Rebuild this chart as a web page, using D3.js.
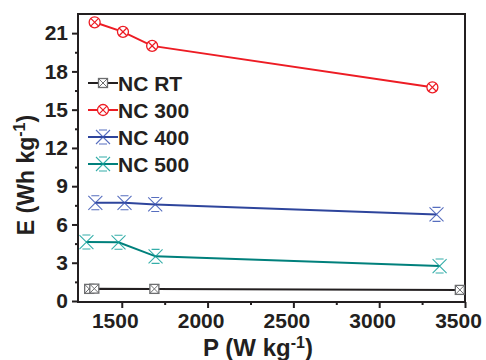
<!DOCTYPE html>
<html>
<head>
<meta charset="utf-8">
<script src="https://cdn.jsdelivr.net/npm/d3@7"></script>
<style>
  body { margin: 0; background: #fff; }
  text { font-family: Arial, "Liberation Sans", sans-serif; font-weight: bold; fill: #231f20; }
</style>
</head>
<body>
<script>
/*
DATA
*/
const seriesNames = ["NC RT", "NC 300", "NC 400", "NC 500"]
const pRT  = [1310, 1340, 1690, 3470]
const eRT  = [0.95, 0.97, 0.95, 0.87]
const p300 = [1342, 1507, 1677, 3310]
const e300 = [21.85, 21.1, 20.0, 16.75]
const p400 = [1346, 1516, 1695, 3334]
const e400 = [7.7, 7.7, 7.57, 6.79]
const p500 = [1294, 1481, 1697, 3352]
const e500 = [4.62, 4.6, 3.5, 2.74]
const xTicks = [1500, 2000, 2500, 3000, 3500]
const xMinor = [1750, 2250, 2750, 3250]
const yTicks = [0, 3, 6, 9, 12, 15, 18, 21]
const yMinor = [1.5, 4.5, 7.5, 10.5, 13.5, 16.5, 19.5]

/*
SET UP
*/
const w = 486
const h = 360
const m = ({top: 14, right: 21, bottom: 58, left: 78})

const svg = d3.select("body")
  .append("svg")
  .attr("width", w)
  .attr("height", h);

const x = d3.scaleLinear()
  .domain([1245, 3500])
  .range([m.left, w - m.right]);

const y = d3.scaleLinear()
  .domain([0, 22.5])
  .range([h - m.bottom - 1, m.top]);

const styles = [
  {line: "#231f20", mark: "#6d6e70", shape: "square"},
  {line: "#ed1c24", mark: "#ed1c24", shape: "circle"},
  {line: "#2e459c", mark: "#3a55b4", shape: "star"},
  {line: "#00807c", mark: "#12a09a", shape: "star"}
]

const series = [
  d3.zip(pRT, eRT),
  d3.zip(p300, e300),
  d3.zip(p400, e400),
  d3.zip(p500, e500)
]

/*
MARKERS
*/
function drawMarker(g, shape, color) {
  if (shape === "square") {
    g.append("rect").attr("x", -4.5).attr("y", -4.5).attr("width", 9).attr("height", 9)
      .attr("fill", "#fff").attr("stroke", color).attr("stroke-width", 1.3);
    g.append("path").attr("d", "M-4.5,-4.5L4.5,4.5M4.5,-4.5L-4.5,4.5")
      .attr("stroke", color).attr("stroke-width", 1);
  } else if (shape === "circle") {
    g.append("circle").attr("r", 5.5)
      .attr("fill", "#fff").attr("stroke", color).attr("stroke-width", 1.3);
    g.append("path").attr("d", "M-3.9,-3.9L3.9,3.9M3.9,-3.9L-3.9,3.9")
      .attr("stroke", color).attr("stroke-width", 1.2);
  } else {
    g.append("path")
      .attr("d", "M-7,-7L7,7M7,-7L-7,7M-4,-7L4,-7M-4,7L4,7")
      .attr("fill", "none").attr("stroke", color).attr("stroke-width", 1.1)
      .attr("opacity", 0.85);
  }
}

/*
AXES
*/
svg.append("g")
  .attr("class", "x-major")
  .attr("transform", `translate(0,${h - m.bottom})`)
  .call(d3.axisBottom(x).tickValues(xTicks).tickSize(6).tickPadding(5).tickFormat(d3.format("d")));
svg.append("g")
  .attr("transform", `translate(0,${h - m.bottom})`)
  .call(d3.axisBottom(x).tickValues(xMinor).tickSize(3).tickFormat(""));

svg.append("g")
  .attr("class", "y-major")
  .attr("transform", `translate(${m.left},0)`)
  .call(d3.axisLeft(y).tickValues(yTicks).tickSize(6).tickPadding(4));
svg.append("g")
  .attr("transform", `translate(${m.left},0)`)
  .call(d3.axisLeft(y).tickValues(yMinor).tickSize(3).tickFormat(""));

svg.selectAll(".domain").remove();
svg.selectAll(".tick line").attr("stroke", "#231f20").attr("stroke-width", 2);
svg.selectAll(".tick text")
  .attr("font-size", 21)
  .style("font-family", "Arial, 'Liberation Sans', sans-serif")
  .style("font-weight", "bold")
  .attr("fill", "#231f20");
svg.selectAll(".x-major .tick text")
  .attr("dx", -7);

// frame
svg.append("rect")
  .attr("x", m.left)
  .attr("y", m.top)
  .attr("width", w - m.right - m.left)
  .attr("height", h - m.bottom - m.top)
  .attr("fill", "none")
  .attr("stroke", "#231f20")
  .attr("stroke-width", 2);

/*
LINES & POINTS
*/
const line = d3.line()
  .x((d) => x(d[0]))
  .y((d) => y(d[1]));

series.forEach((s, i) => {
  svg.append("path")
    .datum(s)
    .attr("d", line)
    .attr("fill", "none")
    .attr("stroke", styles[i].line)
    .attr("stroke-width", 2);
  s.forEach((d) => {
    const g = svg.append("g").attr("transform", `translate(${x(d[0])},${y(d[1])})`);
    drawMarker(g, styles[i].shape, styles[i].mark);
  });
});

/*
LEGEND
*/
const legend = svg.append("g").attr("transform", "translate(88,83)");
seriesNames.forEach((name, i) => {
  const row = legend.append("g").attr("transform", `translate(0,${i * 27})`);
  row.append("line")
    .attr("x1", 0).attr("x2", 30)
    .attr("stroke", styles[i].line).attr("stroke-width", 2);
  drawMarker(row.append("g").attr("transform", "translate(15,0)"), styles[i].shape, styles[i].mark);
  row.append("text")
    .attr("x", 30)
    .attr("y", 7.5)
    .attr("font-size", 21)
    .text(name);
});

/*
AXIS TITLES
*/
const xTitle = svg.append("text")
  .attr("x", 258)
  .attr("y", 356)
  .attr("text-anchor", "middle")
  .attr("font-size", 24);
xTitle.append("tspan").text("P (W kg");
xTitle.append("tspan").attr("dy", -8).attr("font-size", 16).text("-1");
xTitle.append("tspan").attr("dy", 8).text(")");

const yTitle = svg.append("text")
  .attr("transform", "translate(34,175) rotate(-90)")
  .attr("text-anchor", "middle")
  .attr("font-size", 23);
yTitle.append("tspan").text("E (Wh kg");
yTitle.append("tspan").attr("dy", -9).attr("font-size", 16).text("-1");
yTitle.append("tspan").attr("dy", 9).text(")");
</script>
</body>
</html>
